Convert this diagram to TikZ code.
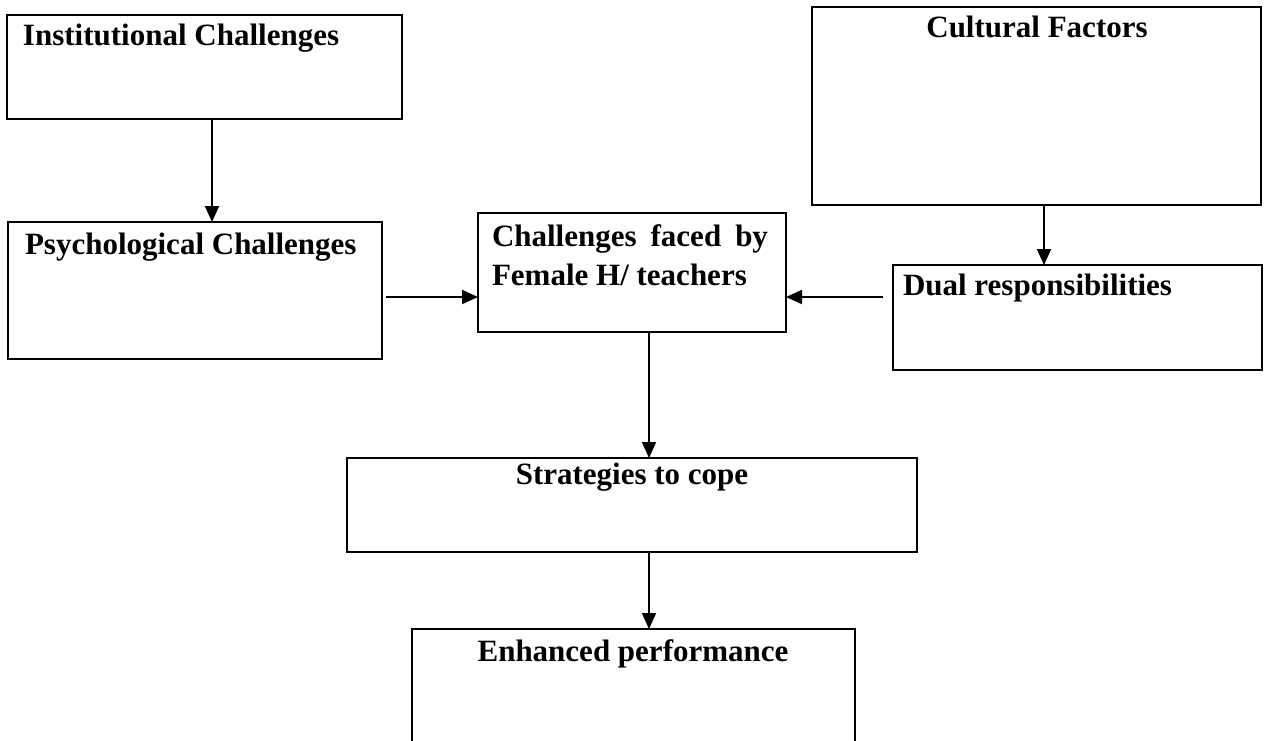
\documentclass[tikz,border=0pt]{standalone}
\usepackage{fontspec}
\setmainfont{Liberation Serif}
\usetikzlibrary{arrows.meta}
\begin{document}
\begin{tikzpicture}[x=1pt,y=-1pt,
  box/.style={draw=black,line width=1.9pt,rectangle,inner sep=0pt,outer sep=0pt,anchor=north west},
  openbox/.style={rectangle,inner sep=0pt,outer sep=0pt,anchor=north west},
  txt/.style={inner sep=0pt,outer sep=0pt,font=\fontsize{31}{38}\selectfont\bfseries},
  arr/.style={draw=black,line width=1.9pt,-{Triangle[length=16pt,width=14pt]}}]
\useasboundingbox[fill=white] (0,0) rectangle (1264,740);
% boxes
\node[box,minimum width=395pt,minimum height=104pt] (inst) at (7,15) {};
\node[box,minimum width=449pt,minimum height=198pt] (cult) at (812,7) {};
\node[box,minimum width=374pt,minimum height=137pt] (psych) at (8,222) {};
\node[box,minimum width=308pt,minimum height=119pt] (chal) at (478,213) {};
\node[box,minimum width=369pt,minimum height=105pt] (dual) at (893,265) {};
\node[box,minimum width=570pt,minimum height=94pt] (strat) at (347,458) {};
\node[openbox,minimum width=443pt,minimum height=116pt] (enh) at (412,629) {};
\draw[line width=1.9pt] (enh.south west) -- (enh.north west) -- (enh.north east) -- (enh.south east);
% texts
\node[txt,anchor=base west] (instT) at (23,45) {Institutional Challenges};
\node[txt,anchor=base] (cultT) at (1037,37) {Cultural Factors};
\node[txt,anchor=base west] (psychT) at (25,254) {Psychological Challenges};
\node[txt,anchor=base west] (chalT1) at (492,246) {\makebox[276pt][s]{Challenges faced by}};
\node[txt,anchor=base west] (chalT2) at (492,285) {Female H/ teachers};
\node[txt,anchor=base west] (dualT) at (903,295) {Dual responsibilities};
\node[txt,anchor=base] (stratT) at (632,484) {Strategies to cope};
\node[txt,anchor=base] (enhT) at (633,661) {Enhanced performance};
% arrow guide coordinates
\coordinate (c1) at (212,0);
\coordinate (c2) at (1044,0);
\coordinate (c3) at (649,0);
\coordinate (r1) at (0,297);
\coordinate (p1) at (386,297);
\coordinate (d1) at (883,297);
% connectors
\draw[arr] (inst.south -| c1) -- (psych.north -| c1);
\draw[arr] (cult.south -| c2) -- (dual.north -| c2);
\draw[arr] (p1) -- (chal.west |- r1);
\draw[arr] (d1) -- (chal.east |- r1);
\draw[arr] (chal.south -| c3) -- (strat.north -| c3);
\draw[arr] (strat.south -| c3) -- (enh.north -| c3);
\end{tikzpicture}
\end{document}
